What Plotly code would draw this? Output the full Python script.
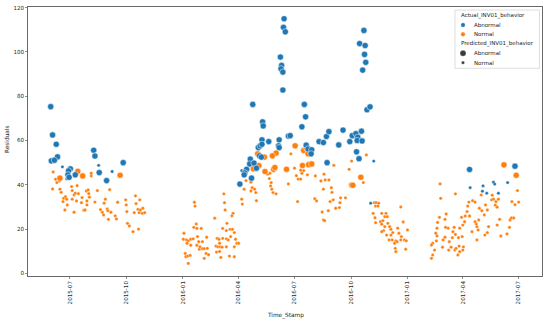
import plotly.graph_objects as go

# ---------------- data ----------------
# Actual Abnormal, Predicted Abnormal (blue, large)
ba_dates = ["2015-05-31", "2015-06-03", "2015-06-09", "2015-06-11", "2015-06-01", "2015-06-06",
            "2015-07-02", "2015-06-29", "2015-06-28", "2015-06-30", "2015-07-10", "2015-08-09",
            "2015-08-11", "2015-08-18", "2015-08-30", "2015-09-26",
            "2016-06-14", "2016-06-13", "2016-06-16", "2016-06-08", "2016-06-10", "2016-06-09",
            "2016-06-12", "2016-06-12", "2016-04-24", "2016-05-10", "2016-05-11", "2016-07-17",
            "2016-07-19", "2016-07-13", "2016-06-21", "2016-06-24", "2016-05-09", "2016-05-20",
            "2016-06-06", "2016-05-03", "2016-05-06", "2016-05-09", "2016-06-05", "2016-06-06",
            "2016-07-20", "2016-07-23", "2016-07-29", "2016-07-28", "2016-05-05", "2016-05-08",
            "2016-04-20", "2016-04-19", "2016-04-26", "2016-04-30", "2016-04-14", "2016-04-11",
            "2016-04-10", "2016-04-03", "2016-04-22", "2016-08-10", "2016-08-17", "2016-08-22",
            "2016-08-26", "2016-08-23",
            "2016-10-22", "2016-10-15", "2016-10-24", "2016-10-23", "2016-10-25", "2016-10-20",
            "2016-10-27", "2016-11-01", "2016-09-18", "2016-09-11", "2016-09-29", "2016-10-03",
            "2016-10-09", "2016-10-12", "2016-10-18", "2016-10-11", "2016-10-19", "2016-10-10",
            "2016-10-14",
            "2017-04-12", "2017-06-25"]
ba_vals = [75.3, 62.5, 58.3, 52.6, 50.8, 51.1,
           47.2, 46.3, 44.5, 43.4, 44.5, 55.6,
           53.0, 45.5, 41.9, 50.0,
           115.0, 111.1, 109.1, 97.7, 93.9, 92.4,
           90.9, 82.8, 76.3, 68.4, 66.6, 76.3,
           70.7, 66.2, 62.0, 62.2, 60.3, 59.5,
           60.3, 56.8, 57.6, 58.3, 57.6, 56.8,
           57.9, 56.2, 55.8, 54.0, 53.1, 52.5,
           51.6, 49.4, 49.8, 47.5, 47.0, 45.4,
           44.5, 40.3, 43.0, 59.5, 59.1, 61.8,
           64.0, 50.0,
           109.7, 103.8, 102.9, 98.9, 95.3, 91.8,
           73.9, 75.2, 64.7, 58.0, 59.5, 62.2,
           63.1, 61.5, 64.2, 60.0, 59.8, 54.9,
           51.8,
           46.9, 48.4]

# Actual Abnormal, Predicted Normal (blue, small)
bn_dates = ["2015-06-19", "2015-06-26", "2015-08-17", "2015-09-08", "2016-04-06", "2016-05-16",
            "2016-11-07", "2016-11-02", "2017-04-13", "2017-05-04", "2017-05-03", "2017-05-10",
            "2017-05-21", "2017-05-23", "2017-05-29", "2017-06-13"]
bn_vals = [48.1, 42.7, 48.8, 46.0, 46.4, 45.7,
           50.7, 31.7, 38.7, 39.5, 37.1, 36.2,
           41.2, 40.3, 36.2, 41.0]

# Actual Normal, Predicted Abnormal (orange, large)
oa_dates = ["2015-06-15", "2015-07-14", "2015-07-22", "2015-09-21", "2016-07-02", "2016-07-16",
            "2016-07-21", "2016-07-23", "2016-06-01", "2016-05-26", "2016-05-13", "2016-05-02",
            "2016-05-04", "2016-04-25", "2016-05-14", "2016-05-28", "2016-05-30", "2016-06-18",
            "2016-07-14", "2016-07-24", "2016-07-29", "2016-10-17", "2016-10-02", "2016-10-04",
            "2017-06-07", "2017-06-27"]
oa_vals = [43.0, 46.1, 44.0, 44.3, 57.6, 55.5,
           56.4, 54.0, 54.3, 53.1, 52.5, 54.0,
           48.7, 47.2, 46.0, 47.0, 47.8, 47.0,
           48.7, 49.1, 49.4, 43.4, 39.9, 39.8,
           49.0, 44.3]

# Actual Normal, Predicted Normal (orange, small)
on_dates = [
    # 2015
    "2015-06-04", "2015-06-03", "2015-06-08", "2015-06-10", "2015-06-14", "2015-06-15",
    "2015-06-17", "2015-06-21", "2015-06-24", "2015-06-26", "2015-06-20", "2015-06-27",
    "2015-06-23", "2015-07-04", "2015-07-05", "2015-07-08", "2015-07-10", "2015-07-05",
    "2015-07-13", "2015-07-15", "2015-07-12", "2015-07-21", "2015-07-20", "2015-07-08",
    "2015-07-24", "2015-07-26", "2015-07-28", "2015-07-31", "2015-08-01", "2015-07-29",
    "2015-08-02", "2015-07-29", "2015-08-05", "2015-08-05", "2015-08-11", "2015-08-15",
    "2015-08-20", "2015-08-23", "2015-08-26", "2015-08-28", "2015-08-31", "2015-09-01",
    "2015-09-04", "2015-09-06", "2015-08-25", "2015-09-02", "2015-09-15", "2015-09-13",
    "2015-09-17", "2015-09-30", "2015-10-01", "2015-10-02", "2015-10-03", "2015-10-06",
    "2015-10-12", "2015-10-16", "2015-10-17", "2015-10-20", "2015-10-22", "2015-10-23",
    "2015-10-24", "2015-10-27", "2015-10-28", "2015-10-31", "2015-10-21", "2015-10-14",
    # 2016 Q1
    "2016-01-20", "2016-01-21", "2016-01-23", "2016-01-19", "2016-01-24", "2016-01-31",
    "2016-01-03", "2016-01-02", "2016-01-07", "2016-01-10", "2016-01-14", "2016-01-18",
    "2016-01-08", "2016-01-14", "2016-01-05", "2016-01-06", "2016-01-09", "2016-01-13",
    "2016-01-10", "2016-01-25", "2016-01-27", "2016-01-24", "2016-01-28", "2016-02-02",
    "2016-02-05", "2016-02-10", "2016-02-08", "2016-02-12", "2016-02-09", "2016-02-02",
    "2016-01-29", "2016-02-05", "2016-02-22", "2016-03-08", "2016-03-09", "2016-03-10",
    "2016-03-13", "2016-03-06", "2016-03-12", "2016-03-18", "2016-03-22", "2016-03-25",
    "2016-02-26", "2016-02-29", "2016-03-06", "2016-03-12", "2016-03-15", "2016-03-19",
    "2016-03-27", "2016-03-29", "2016-04-01", "2016-03-01", "2016-02-24", "2016-02-27",
    "2016-03-02", "2016-03-05", "2016-02-25", "2016-03-01", "2016-03-12", "2016-03-17",
    "2016-03-03", "2016-03-23", "2016-03-21", "2016-03-25", "2016-03-25",
    # 2016 rise
    "2016-04-09", "2016-04-13", "2016-04-10", "2016-04-06", "2016-04-07", "2016-04-21",
    "2016-04-23", "2016-04-27", "2016-04-21", "2016-04-29", "2016-04-30", "2016-05-18",
    "2016-05-22", "2016-05-21", "2016-05-24", "2016-05-23", "2016-05-25", "2016-05-27",
    "2016-06-01", "2016-06-21", "2016-06-25", "2016-07-01", "2016-07-04", "2016-07-07",
    "2016-07-11", "2016-07-13", "2016-07-11", "2016-07-16", "2016-07-22", "2016-07-06",
    "2016-08-04", "2016-08-13", "2016-08-17", "2016-08-03", "2016-08-06", "2016-08-15",
    "2016-08-25", "2016-08-17", "2016-08-19",
    "2016-09-03", "2016-10-02", "2016-10-26", "2016-09-28", "2016-10-21", "2016-08-18",
    "2016-08-20", "2016-08-26", "2016-08-30", "2016-08-31", "2016-08-28", "2016-09-02",
    "2016-09-14", "2016-09-22", "2016-09-13", "2016-09-06", "2016-09-12",
    # 2016 Nov-Dec
    "2016-11-08", "2016-11-11", "2016-11-15", "2016-11-10", "2016-11-14", "2016-11-06",
    "2016-11-09", "2016-11-10", "2016-11-20", "2016-11-27", "2016-11-25", "2016-11-18",
    "2016-11-22", "2016-11-29", "2016-11-20", "2016-11-25", "2016-11-30", "2016-12-03",
    "2016-11-23", "2016-11-20", "2016-12-05", "2016-12-08", "2016-11-28", "2016-12-05",
    "2016-12-02", "2016-12-07", "2016-12-13", "2016-12-16", "2016-12-18", "2016-12-21",
    "2016-12-22", "2016-12-25", "2016-12-27", "2016-12-30", "2017-01-01", "2016-12-21",
    "2016-12-11", "2016-12-12", "2016-12-13", "2016-12-29", "2016-12-15",
    # 2017
    "2017-02-23", "2017-03-20", "2017-02-24", "2017-05-01", "2017-04-11", "2017-04-17",
    "2017-04-21", "2017-04-09", "2017-04-08", "2017-04-05", "2017-04-04", "2017-04-01",
    "2017-03-30", "2017-03-27", "2017-03-31", "2017-03-25", "2017-03-20", "2017-03-16",
    "2017-03-18", "2017-03-08", "2017-03-15", "2017-03-10", "2017-03-13", "2017-03-09",
    "2017-03-19", "2017-03-21", "2017-03-27", "2017-03-24", "2017-04-01", "2017-04-02",
    "2017-03-26", "2017-03-03", "2017-02-28", "2017-02-27", "2017-03-04", "2017-03-05",
    "2017-03-03", "2017-02-19", "2017-02-22", "2017-02-18", "2017-02-16", "2017-02-18",
    "2017-02-17", "2017-02-11", "2017-02-09", "2017-02-14", "2017-02-11", "2017-02-09",
    "2017-04-28", "2017-04-27", "2017-04-24", "2017-04-26", "2017-04-23", "2017-04-21",
    "2017-04-24", "2017-04-16", "2017-04-12", "2017-05-02", "2017-05-06", "2017-05-08",
    "2017-05-11", "2017-05-13", "2017-05-07", "2017-05-11", "2017-05-18", "2017-05-21",
    "2017-05-25", "2017-05-29", "2017-05-19", "2017-05-24", "2017-05-27", "2017-05-31",
    "2017-05-27", "2017-06-02", "2017-06-12", "2017-06-16", "2017-06-17", "2017-06-19",
    "2017-06-23", "2017-06-20", "2017-06-25", "2017-07-01", "2017-06-29"]
on_vals = [
    45.8, 38.1, 42.5, 41.0, 41.7, 38.0,
    36.6, 33.9, 34.6, 33.5, 32.4, 30.9,
    28.6, 39.2, 37.4, 35.4, 36.2, 33.5,
    39.6, 36.0, 32.7, 34.2, 31.9, 27.6,
    28.5, 28.6, 37.2, 37.7, 36.0, 32.7,
    34.4, 30.9, 44.0, 45.2, 32.2, 37.4,
    28.8, 27.6, 31.7, 33.5, 29.1, 28.3,
    37.8, 27.6, 26.4, 24.4, 24.6, 26.0,
    32.1, 33.2, 30.9, 27.9, 22.6, 21.4,
    18.8, 35.0, 31.5, 28.9, 27.4, 33.2,
    28.6, 27.1, 29.4, 27.4, 20.0, 27.4,
    32.1, 30.4, 22.3, 20.8, 20.3, 20.3,
    18.1, 15.4, 15.1, 14.7, 15.4, 15.6,
    13.6, 12.7, 9.0, 7.5, 7.8, 8.1,
    4.5, 16.6, 14.3, 12.7, 10.9, 11.1,
    11.1, 11.3, 9.0, 8.4, 16.3, 14.3,
    12.0, 6.8, 24.9, 35.9, 31.9, 28.6,
    22.6, 20.3, 19.3, 19.9, 19.9, 18.4,
    15.8, 15.4, 15.8, 15.6, 15.1, 16.6,
    15.4, 13.6, 13.6, 13.6, 12.3, 12.0,
    12.0, 11.8, 9.6, 9.9, 12.0, 7.8,
    7.2, 27.1, 26.0, 12.0, 7.5,
    44.1, 41.9, 38.0, 33.5, 31.3, 41.2,
    38.7, 38.0, 37.2, 36.5, 32.8, 44.8,
    45.2, 42.8, 41.0, 39.5, 38.0, 36.5,
    35.9, 40.4, 54.0, 47.5, 44.1, 42.6,
    42.6, 45.2, 46.6, 46.4, 44.5, 32.4,
    44.0, 41.7, 38.0, 33.7, 32.7, 27.7,
    28.3, 24.1, 23.8,
    48.8, 50.7, 53.5, 47.0, 41.0, 44.8,
    42.2, 42.2, 38.7, 36.6, 32.4, 33.2,
    34.1, 34.1, 31.9, 29.4, 29.7,
    31.9, 31.9, 31.7, 30.4, 30.4, 27.1,
    25.1, 22.9, 27.1, 27.1, 25.6, 23.3,
    23.8, 25.6, 22.2, 21.1, 22.6, 21.1,
    19.3, 18.8, 19.9, 18.4, 17.3, 17.3,
    15.1, 15.1, 14.7, 20.4, 18.1, 15.1,
    16.6, 23.2, 15.1, 14.7, 19.6, 30.0,
    13.6, 11.3, 9.8, 10.9, 14.3,
    40.4, 35.9, 33.9, 35.4, 32.2, 32.8,
    32.2, 30.4, 27.9, 25.9, 23.3, 21.8,
    25.3, 20.4, 16.6, 16.1, 17.6, 18.8,
    20.8, 20.4, 16.1, 14.3, 11.8, 10.5,
    10.5, 11.3, 9.8, 8.3, 10.5, 12.0,
    12.3, 16.3, 15.1, 11.8, 20.8, 26.8,
    24.4, 23.0, 25.3, 20.4, 18.1, 16.9,
    14.7, 13.6, 12.8, 10.5, 8.3, 6.8,
    29.4, 24.1, 21.1, 19.6, 22.3, 23.3,
    15.1, 18.8, 25.9, 28.3, 26.4, 30.9,
    28.6, 21.1, 17.3, 18.4, 33.2, 33.5,
    32.4, 33.5, 35.3, 30.8, 29.9, 24.4,
    21.8, 16.9, 17.8, 20.8, 24.1, 25.0,
    25.0, 32.4, 31.0, 32.2, 37.4]

x_tick_vals = ["2015-07-01", "2015-10-01", "2016-01-01", "2016-04-01", "2016-07-01",
               "2016-10-01", "2017-01-01", "2017-04-01", "2017-07-01"]
x_tick_text = ["2015-07", "2015-10", "2016-01", "2016-04", "2016-07",
               "2016-10", "2017-01", "2017-04", "2017-07"]
y_tick_vals = [0, 20, 40, 60, 80, 100, 120]

legend_title_actual = "Actual_INV01_behavior"
legend_title_pred = "Predicted_INV01_behavior"
legend_labels = ["Abnormal", "Normal"]

# ---------------- style ----------------
BLUE = "#1f77b4"
ORANGE = "#ff7f0e"
DARK = "#3a3a3a"
W, H = 550, 322
ML, MR, MT, MB = 28, 8, 7, 46
PW, PH = W - ML - MR, H - MT - MB
FONT = "DejaVu Sans"
TXT = "#262626"


def px(xp):
    return (xp - ML) / PW


def py(yp):
    return (H - MB - yp) / PH


fig = go.Figure()


def add(dates, vals, color, size, lw):
    fig.add_trace(go.Scatter(
        x=dates, y=vals, mode="markers", showlegend=False, hoverinfo="skip",
        marker=dict(color=color, size=size, line=dict(color="white", width=lw))))


add(on_dates, on_vals, ORANGE, 3.3, 0.3)
add(bn_dates, bn_vals, BLUE, 3.3, 0.3)
add(oa_dates, oa_vals, ORANGE, 6.2, 0.5)
add(ba_dates, ba_vals, BLUE, 6.2, 0.5)

axis_common = dict(showline=True, mirror=True, linecolor="#444", linewidth=0.8,
                   ticks="outside", ticklen=2, tickwidth=0.6, tickcolor="#444",
                   showgrid=False, zeroline=False, automargin=False,
                   tickfont=dict(family=FONT, size=5.6, color=TXT))

fig.update_layout(
    width=W, height=H,
    margin=dict(l=ML, r=MR, t=MT, b=MB, autoexpand=False),
    plot_bgcolor="white", paper_bgcolor="white",
    font=dict(family=FONT, color=TXT),
    xaxis=dict(type="date", range=["2015-04-24", "2017-08-08"],
               tickvals=x_tick_vals, ticktext=x_tick_text, tickangle=-90,
               **axis_common),
    yaxis=dict(range=[-1.2, 120.3], tickvals=y_tick_vals, **axis_common),
    showlegend=False,
)

annotations = [
    dict(text="Time_Stamp", x=0.5, y=py(315), xref="paper", yref="paper",
         showarrow=False, xanchor="center", yanchor="middle",
         font=dict(family=FONT, size=5.8, color=TXT)),
    dict(text="Residuals", x=px(7), y=py(139), xref="paper", yref="paper",
         showarrow=False, textangle=-90, xanchor="center", yanchor="middle",
         font=dict(family=FONT, size=5.8, color=TXT)),
]

shapes = [dict(type="rect", xref="paper", yref="paper",
               x0=px(455), x1=px(539.5), y0=py(68.3), y1=py(10),
               line=dict(color="#d6d6d6", width=0.8), fillcolor="rgba(255,255,255,0.85)",
               layer="above")]

LF = 5.5
legend_rows = [
    ("title", legend_title_actual, 15.7, None, 0),
    ("item", legend_labels[0], 25.0, BLUE, 2.2),
    ("item", legend_labels[1], 34.3, ORANGE, 2.2),
    ("title", legend_title_pred, 43.7, None, 0),
    ("item", legend_labels[0], 53.3, DARK, 3.0),
    ("item", legend_labels[1], 62.7, DARK, 1.6),
]
for kind, text, yy, color, r in legend_rows:
    if kind == "title":
        annotations.append(dict(text=text, x=px(459), y=py(yy), xref="paper", yref="paper",
                                showarrow=False, xanchor="left", yanchor="middle",
                                font=dict(family=FONT, size=LF, color=TXT)))
    else:
        shapes.append(dict(type="circle", xref="paper", yref="paper",
                           xsizemode="pixel", ysizemode="pixel",
                           xanchor=px(463), yanchor=py(yy),
                           x0=-r, x1=r, y0=-r, y1=r,
                           fillcolor=color, line=dict(color="white", width=0.3),
                           layer="above"))
        annotations.append(dict(text=text, x=px(471.5), y=py(yy), xref="paper", yref="paper",
                                showarrow=False, xanchor="left", yanchor="middle",
                                font=dict(family=FONT, size=LF, color=TXT)))

fig.update_layout(annotations=annotations, shapes=shapes)
fig.write_html("out.html",
               config={"displayModeBar": False, "staticPlot": True},
               post_script="document.body.style.margin='0';document.body.style.padding='0';")
